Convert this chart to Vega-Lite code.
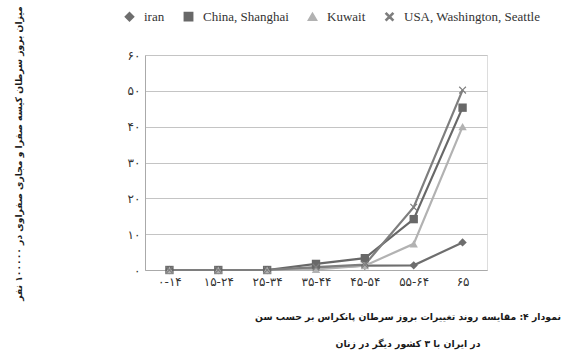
{
  "$schema": "https://vega.github.io/schema/vega-lite/v6.json",
  "autosize": {"type": "none"},
  "width": 342,
  "height": 215,
  "padding": {"left": 145, "top": 55, "right": 87, "bottom": 88},
  "background": "white",
  "title": {
    "text": ["نمودار ۴: مقایسه روند تغییرات بروز سرطان پانکراس بر حسب سن", "در ایران با ۳ کشور دیگر در زنان"],
    "orient": "bottom",
    "anchor": "middle",
    "dx": 92,
    "offset": 13,
    "font": "DejaVu Sans",
    "fontSize": 9.3,
    "fontWeight": "bold",
    "color": "#1a1a1a",
    "lineHeight": 27
  },
  "data": {
    "values": [
      {"age": "۰-۱۴", "series": "iran", "rate": 0},
      {"age": "۱۵-۲۴", "series": "iran", "rate": 0},
      {"age": "۲۵-۳۴", "series": "iran", "rate": 0},
      {"age": "۳۵-۴۴", "series": "iran", "rate": 0.5},
      {"age": "۴۵-۵۴", "series": "iran", "rate": 1.2},
      {"age": "۵۵-۶۴", "series": "iran", "rate": 1.3},
      {"age": "۶۵", "series": "iran", "rate": 7.7},
      {"age": "۰-۱۴", "series": "China, Shanghai", "rate": 0},
      {"age": "۱۵-۲۴", "series": "China, Shanghai", "rate": 0},
      {"age": "۲۵-۳۴", "series": "China, Shanghai", "rate": 0},
      {"age": "۳۵-۴۴", "series": "China, Shanghai", "rate": 1.7},
      {"age": "۴۵-۵۴", "series": "China, Shanghai", "rate": 3.3},
      {"age": "۵۵-۶۴", "series": "China, Shanghai", "rate": 14.2},
      {"age": "۶۵", "series": "China, Shanghai", "rate": 45.3},
      {"age": "۰-۱۴", "series": "Kuwait", "rate": 0},
      {"age": "۱۵-۲۴", "series": "Kuwait", "rate": 0},
      {"age": "۲۵-۳۴", "series": "Kuwait", "rate": 0},
      {"age": "۳۵-۴۴", "series": "Kuwait", "rate": 0.2},
      {"age": "۴۵-۵۴", "series": "Kuwait", "rate": 1.2},
      {"age": "۵۵-۶۴", "series": "Kuwait", "rate": 7.3},
      {"age": "۶۵", "series": "Kuwait", "rate": 40},
      {"age": "۰-۱۴", "series": "USA, Washington, Seattle", "rate": 0},
      {"age": "۱۵-۲۴", "series": "USA, Washington, Seattle", "rate": 0},
      {"age": "۲۵-۳۴", "series": "USA, Washington, Seattle", "rate": 0},
      {"age": "۳۵-۴۴", "series": "USA, Washington, Seattle", "rate": 0.8},
      {"age": "۴۵-۵۴", "series": "USA, Washington, Seattle", "rate": 1.5},
      {"age": "۵۵-۶۴", "series": "USA, Washington, Seattle", "rate": 17.5},
      {"age": "۶۵", "series": "USA, Washington, Seattle", "rate": 50.2}
    ]
  },
  "encoding": {
    "x": {
      "field": "age",
      "type": "ordinal",
      "sort": null,
      "scale": {"type": "point", "padding": 0.5},
      "axis": {
        "title": null,
        "labelAngle": 0,
        "labelFont": "DejaVu Sans",
        "labelFontSize": 12,
        "labelColor": "#333",
        "labelPadding": 6,
        "ticks": false,
        "domainColor": "#aaa",
        "grid": false
      }
    },
    "y": {
      "field": "rate",
      "type": "quantitative",
      "scale": {"domain": [0, 60], "nice": false},
      "axis": {
        "values": [0, 10, 20, 30, 40, 50, 60],
        "labelExpr": "['۰','۱۰','۲۰','۳۰','۴۰','۵۰','۶۰'][round(datum.value / 10)]",
        "labelFont": "DejaVu Sans",
        "labelFontSize": 12,
        "labelColor": "#333",
        "labelPadding": 5,
        "ticks": false,
        "domainColor": "#aaa",
        "gridColor": "#c4c4c4",
        "gridWidth": 1.2,
        "title": "میزان بروز سرطان کیسه صفرا و مجاری صفراوی در ۱۰۰۰۰۰ نفر",
        "titleFont": "DejaVu Sans",
        "titleFontSize": 9.2,
        "titleFontWeight": "bold",
        "titleColor": "#1a1a1a",
        "titleAngle": 270,
        "titleX": -127,
        "titleY": 98,
        "titleAlign": "center",
        "titleBaseline": "middle"
      }
    },
    "color": {
      "field": "series",
      "type": "nominal",
      "scale": {
        "domain": ["iran", "China, Shanghai", "Kuwait", "USA, Washington, Seattle"],
        "range": ["#6e6e6e", "#686868", "#b2b2b2", "#7e7e7e"]
      },
      "legend": {
        "orient": "none",
        "legendX": -22,
        "legendY": -45,
        "direction": "horizontal",
        "title": null,
        "labelFont": "Liberation Serif",
        "labelFontSize": 13,
        "labelColor": "#333",
        "symbolSize": 70,
        "labelOffset": 8,
        "columnPadding": 16
      }
    }
  },
  "layer": [
    {
      "mark": {"type": "line", "strokeWidth": 2.2}
    },
    {
      "mark": {"type": "point", "filled": true, "size": 70, "opacity": 1},
      "encoding": {
        "shape": {
          "field": "series",
          "type": "nominal",
          "scale": {
            "domain": ["iran", "China, Shanghai", "Kuwait", "USA, Washington, Seattle"],
            "range": ["diamond", "square", "triangle-up", "M-0.9,-0.7L-0.7,-0.9L0,-0.2L0.7,-0.9L0.9,-0.7L0.2,0L0.9,0.7L0.7,0.9L0,0.2L-0.7,0.9L-0.9,0.7L-0.2,0Z"]
          }
        }
      }
    }
  ]
}
